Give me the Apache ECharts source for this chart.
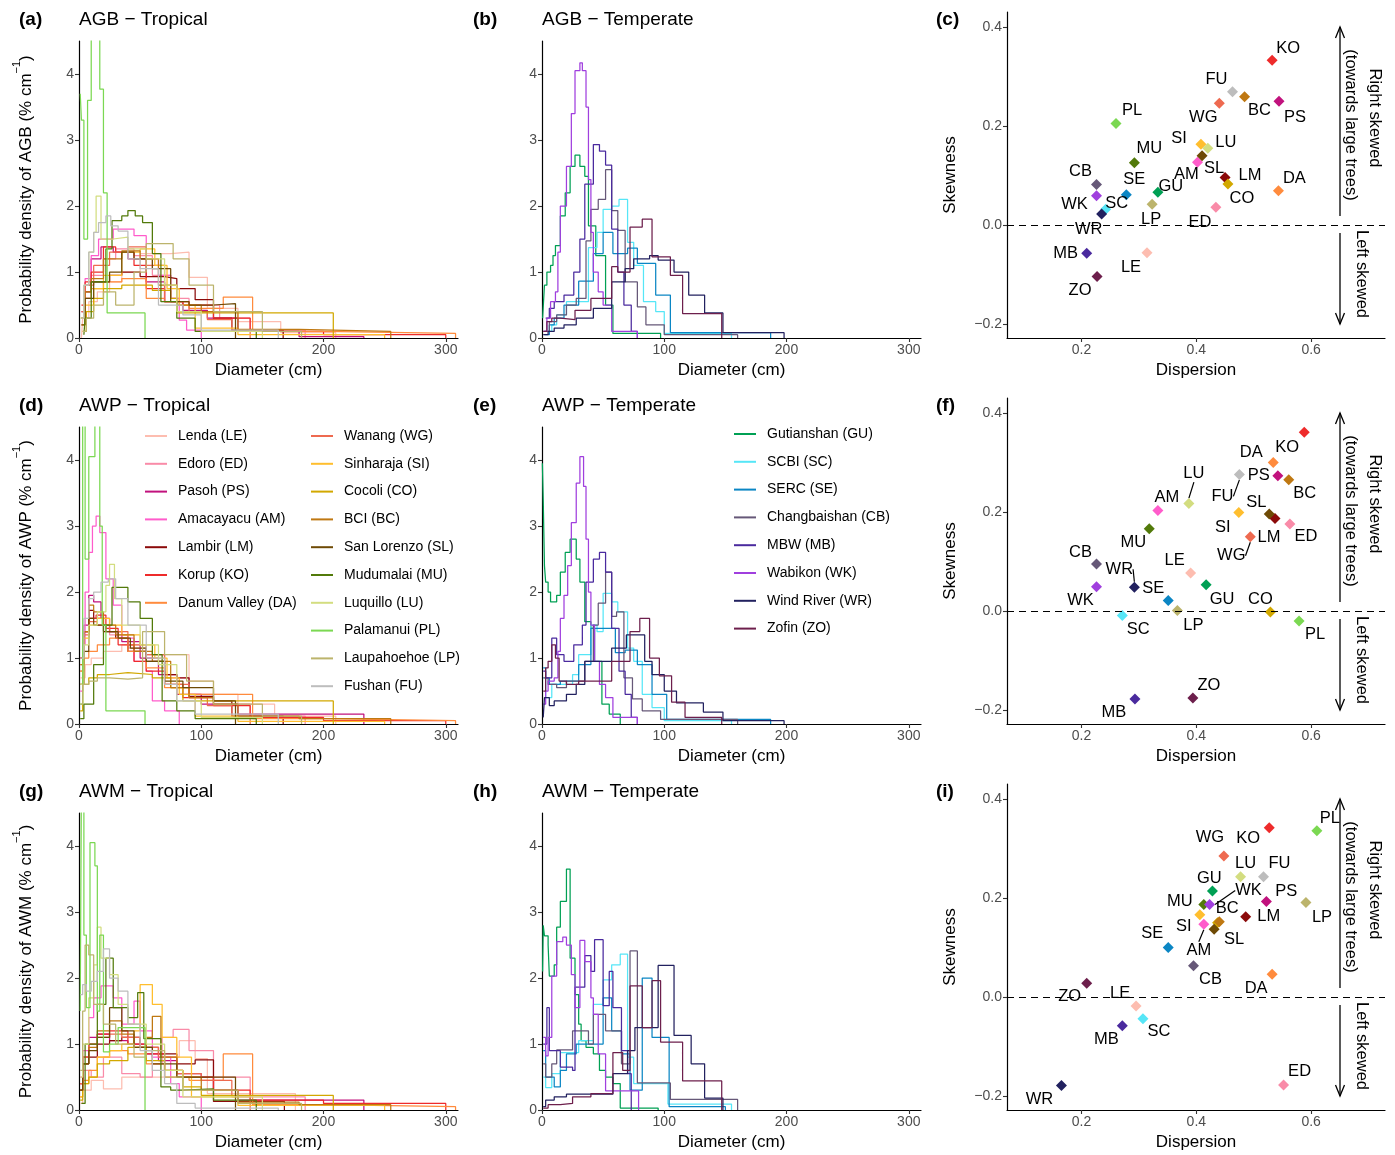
<!DOCTYPE html>
<html>
<head>
<meta charset="utf-8">
<script src="https://cdn.jsdelivr.net/npm/echarts@6/dist/echarts.min.js"></script>
<style>
  html, body { margin: 0; padding: 0; background: #fff; }
  #chart { width: 1395px; height: 1155px; }
</style>
</head>
<body>
<div id="chart"></div>
<script>
// ---- sites ----
const tropicalSites = ['LE','ED','PS','AM','LM','KO','DA','WG','SI','CO','BC','SL','MU','LU','PL','LP','FU'];
const tropicalNames = ['Lenda (LE)','Edoro (ED)','Pasoh (PS)','Amacayacu (AM)','Lambir (LM)','Korup (KO)','Danum Valley (DA)',
  'Wanang (WG)','Sinharaja (SI)','Cocoli (CO)','BCI (BC)','San Lorenzo (SL)','Mudumalai (MU)','Luquillo (LU)','Palamanui (PL)','Laupahoehoe (LP)','Fushan (FU)'];
const tropicalColors = ['#FDBDB0','#F98BA8','#C1127D','#FF5CCB','#8B0A0A','#EE2B2B','#FF8B3D',
  '#EE6A50','#FFBE2E','#D2A800','#BF7812','#6E4A05','#527A0A','#D3DD80','#7BD852','#BCB46C','#BDBDBD'];
const temperateSites = ['GU','SC','SE','CB','MB','WK','WR','ZO'];
const temperateNames = ['Gutianshan (GU)','SCBI (SC)','SERC (SE)','Changbaishan (CB)','MBW (MB)','Wabikon (WK)','Wind River (WR)','Zofin (ZO)'];
const temperateColors = ['#00A054','#56E6F7','#0B86C4','#665878','#4A2A9E','#A03FDE','#22215F','#6D1F4C'];

// ---- step histograms: [left edge (cm), density (% per cm)], last point closes at 0 ----
const agbTropical = [
  [[2,0],[3,0.3],[8,0.55],[15,0.7],[25,0.85],[35,1.0],[50,1.28],[75,1.3],[90,0.92],[105,0.45],[130,0.25],[165,0.08],[210,0]],
  [[2,0.2],[5,0.6],[10,0.95],[20,1.2],[30,1.35],[45,1.25],[60,0.95],[75,0.6],[90,0.5],[115,0.3],[140,0.12],[185,0]],
  [[2,0.4],[5,0.8],[10,1.2],[18,1.38],[28,1.3],[40,1.2],[55,0.85],[70,0.55],[85,0.42],[105,0.3],[130,0.1],[180,0.02],[233,0]],
  [[2,0.3],[5,0.9],[10,1.25],[16,1.5],[28,1.65],[45,1.55],[55,1.2],[65,0.95],[75,0.6],[82,0.27],[88,0.12],[100,0]],
  [[2,0.3],[5,0.7],[10,0.85],[25,0.95],[35,1.0],[50,0.93],[70,0.9],[80,0.75],[95,0.58],[110,0.3],[125,0.12],[167,0]],
  [[2,0.5],[5,0.85],[10,1.0],[20,1.38],[30,1.3],[45,1.1],[55,0.75],[70,0.55],[85,0.5],[110,0.3],[140,0.1],[200,0.05],[300,0]],
  [[2,0.3],[5,0.6],[10,0.75],[20,0.85],[35,0.9],[55,0.6],[70,0.55],[90,0.45],[118,0.62],[142,0.1],[200,0.07],[308,0]],
  [[2,0.4],[5,0.8],[12,1.1],[25,1.3],[40,1.38],[55,1.1],[70,0.55],[90,0.4],[105,0.28],[125,0.1],[140,0]],
  [[2,0.2],[5,0.5],[12,0.75],[20,0.95],[35,1.3],[50,1.35],[62,1.1],[72,0.75],[82,0.5],[95,0.15],[130,0.05],[250,0]],
  [[3,0.1],[6,0.4],[12,0.6],[20,0.75],[35,0.8],[60,0.72],[75,0.6],[80,0.38],[208,0]],
  [[2,0.3],[5,0.7],[10,0.9],[20,1.2],[35,1.32],[50,1.2],[65,0.8],[80,0.5],[100,0.4],[130,0.13],[180,0.1],[255,0]],
  [[2,0.2],[5,0.6],[12,0.85],[25,1.0],[35,1.3],[45,1.2],[60,1.05],[75,0.55],[90,0.5],[110,0.52],[128,0]],
  [[4,0.05],[5,0.3],[10,0.85],[22,1.35],[27,1.78],[35,1.85],[40,1.93],[46,1.85],[52,1.75],[60,1.28],[67,0.55],[80,0.3],[95,0.1],[145,0]],
  [[1,0.3],[4,0.8],[8,1.3],[12,1.6],[14,2.15],[18,1.5],[28,1.53],[40,1.35],[55,1.2],[70,0.8],[80,0.4],[100,0.1],[150,0]],
  [[1,3.7],[2,3.3],[4,1.5],[7,3.6],[10,4.8],[17,3.77],[20,2.2],[23,0.38],[54,0]],
  [[3,0.1],[6,0.3],[12,0.5],[20,0.7],[30,0.5],[45,1.0],[55,1.43],[77,1.2],[90,0.8],[110,0.4],[150,0.1],[182,0]],
  [[2,0.3],[4,0.8],[8,1.3],[12,1.6],[16,1.75],[22,1.85],[26,1.7],[32,1.62],[40,1.2],[50,1.05],[65,0.5],[85,0.35],[100,0.12],[163,0]]
];
const awpTropical = [
  [[1,0.7],[5,0.9],[10,1.0],[20,1.1],[35,1.2],[55,1.05],[75,1.05],[90,0.65],[110,0.45],[130,0.3],[160,0.12],[210,0]],
  [[1,0.9],[4,1.4],[8,1.6],[15,1.5],[25,1.35],[40,1.15],[55,1.05],[70,0.7],[90,0.45],[110,0.3],[140,0.12],[185,0]],
  [[1,0.8],[4,1.5],[8,1.95],[12,1.85],[18,1.6],[25,1.4],[35,1.25],[50,1.0],[65,0.75],[80,0.45],[100,0.3],[130,0.15],[233,0]],
  [[1,0.5],[3,1.2],[5,2.0],[8,2.6],[11,3.0],[14,3.15],[17,2.9],[22,2.2],[28,1.8],[35,1.3],[45,0.95],[55,0.8],[60,0.35],[70,0.2],[82,0]],
  [[1,1.0],[4,1.4],[8,1.72],[12,1.6],[20,1.4],[30,1.3],[40,1.1],[55,0.95],[70,0.75],[80,0.7],[90,0.42],[110,0.35],[125,0.12],[167,0]],
  [[1,1.0],[4,1.4],[8,1.6],[14,1.65],[22,1.45],[32,1.2],[45,0.95],[55,0.8],[70,0.6],[85,0.4],[110,0.28],[140,0.1],[200,0.05],[300,0]],
  [[1,0.6],[4,1.0],[8,1.1],[15,1.2],[25,1.3],[40,1.1],[55,0.85],[70,0.55],[90,0.45],[118,0.45],[142,0.08],[200,0.05],[308,0]],
  [[1,1.0],[4,1.35],[8,1.55],[15,1.5],[25,1.4],[40,1.2],[55,1.05],[70,0.6],[90,0.4],[105,0.28],[125,0.1],[140,0]],
  [[1,0.8],[4,1.3],[8,1.5],[15,1.6],[25,1.5],[35,1.35],[50,1.2],[62,1.0],[72,0.7],[82,0.45],[95,0.12],[130,0.04],[250,0]],
  [[1,0.2],[3,0.6],[8,0.7],[15,0.75],[25,0.78],[40,0.75],[60,0.7],[75,0.55],[85,0.35],[208,0]],
  [[1,0.9],[4,1.4],[8,1.8],[12,1.7],[20,1.5],[30,1.35],[45,1.1],[60,0.95],[75,0.55],[90,0.4],[110,0.3],[130,0.12],[180,0.08],[255,0]],
  [[1,0.6],[4,1.1],[8,1.6],[12,1.5],[22,1.4],[32,1.3],[42,1.15],[55,0.95],[70,0.65],[85,0.55],[110,0.35],[128,0]],
  [[1,0.08],[4,0.3],[12,0.9],[20,1.5],[27,2.07],[40,1.85],[50,1.6],[60,1.05],[68,0.35],[80,0.2],[95,0.08],[145,0]],
  [[1,0.6],[4,1.2],[8,1.5],[15,1.7],[22,2.1],[25,2.42],[29,1.9],[35,1.5],[50,1.2],[65,0.9],[80,0.35],[100,0.1],[150,0]],
  [[1,0.3],[3,5],[5,2.5],[8,4.05],[13,5],[17,3.0],[19,1.5],[22,0.2],[54,0]],
  [[1,0.3],[3,0.6],[8,0.65],[15,0.7],[25,0.68],[40,0.7],[52,1.4],[70,1.05],[88,0.65],[110,0.3],[150,0.12],[182,0]],
  [[1,1.0],[4,1.6],[8,1.9],[12,2.0],[18,2.15],[24,2.2],[30,1.9],[40,1.5],[55,1.0],[70,0.6],[80,0.35],[95,0.15],[163,0]]
];
const awmTropical = [
  [[1,0.1],[3,0.3],[10,0.45],[20,0.32],[35,0.5],[55,0.5],[70,0.8],[82,1.05],[95,0.78],[105,0.25],[177,0]],
  [[1,0.3],[3,0.6],[10,0.5],[20,0.8],[35,0.55],[50,0.5],[60,0.7],[68,1.1],[77,1.22],[90,0.9],[110,0.5],[140,0.2],[185,0]],
  [[1,0.4],[3,0.8],[8,1.1],[15,1.15],[25,1.05],[40,1.0],[55,0.85],[65,0.75],[80,0.55],[100,0.5],[110,0.3],[130,0.15],[233,0]],
  [[1,0.5],[3,0.9],[8,1.4],[12,1.7],[18,1.88],[28,1.7],[35,1.3],[45,1.65],[50,1.2],[60,0.8],[75,0.4],[82,0.2],[100,0]],
  [[1,0.3],[3,0.7],[8,0.8],[15,1.0],[25,1.05],[35,1.1],[50,0.95],[65,0.85],[80,0.7],[95,0.76],[110,0.13],[168,0]],
  [[1,0.4],[3,0.8],[8,1.0],[15,1.15],[25,1.2],[40,1.0],[55,0.85],[70,0.6],[85,0.5],[110,0.3],[140,0.15],[200,0.1],[300,0]],
  [[1,0.2],[3,0.45],[8,0.6],[15,0.8],[25,0.9],[40,0.85],[55,0.7],[70,0.5],[90,0.45],[118,0.85],[142,0.08],[200,0.05],[308,0]],
  [[1,0.4],[3,0.8],[8,1.0],[15,1.1],[25,1.15],[35,1.1],[50,0.95],[65,0.8],[80,0.55],[100,0.45],[125,0.2],[140,0]],
  [[1,0.2],[3,0.4],[8,0.5],[15,0.8],[25,0.9],[35,1.0],[45,1.2],[50,1.9],[60,1.6],[68,1.1],[80,0.8],[92,0.2],[130,0.07],[250,0]],
  [[1,0.15],[3,0.4],[8,0.5],[15,0.7],[25,0.75],[40,0.95],[55,0.75],[70,0.6],[85,0.35],[100,0.22],[208,0]],
  [[1,0.3],[3,0.7],[8,0.95],[15,1.2],[25,1.35],[35,1.15],[45,0.95],[55,1.1],[60,1.42],[67,0.8],[80,0.5],[100,0.3],[130,0.12],[180,0.08],[255,0]],
  [[1,0.3],[3,0.7],[8,0.9],[15,1.1],[25,1.55],[35,1.2],[45,0.95],[60,0.7],[80,0.5],[100,0.5],[128,0]],
  [[2,0.1],[5,1.0],[15,1.6],[22,2.3],[28,1.55],[40,1.4],[48,1.78],[53,1.08],[67,0.35],[75,0.3],[85,0.32],[110,0.15],[145,0]],
  [[1,0.5],[3,1.0],[8,1.7],[12,2.2],[15,2.77],[18,2.3],[25,2.05],[32,1.6],[40,1.3],[55,1.0],[70,0.6],[85,0.2],[150,0]],
  [[1,1.5],[2,5],[4,2.65],[6,1.55],[9,4.05],[13,3.7],[15,1.5],[17,2.65],[20,0.88],[25,1.0],[32,1.25],[54,0]],
  [[1,0.6],[3,1.5],[5,2.5],[8,2.35],[12,1.6],[20,1.3],[30,1.0],[45,0.8],[55,0.9],[70,0.5],[85,0.3],[130,0.1],[182,0]],
  [[1,1.75],[3,1.9],[6,1.8],[10,1.95],[15,2.1],[20,2.44],[25,2.0],[32,1.8],[40,1.3],[50,0.9],[60,0.6],[70,0.4],[80,0.1],[95,0.03],[163,0]]
];
const agbTemperate = [
  [[0.5,0.3],[2,0.8],[4,1.0],[7,1.1],[9,1.25],[11,1.4],[15,1.85],[19,2.2],[23,2.6],[27,2.77],[31,2.6],[35,2.45],[38,1.7],[44,1.25],[52,0.5],[58,0.07],[97,0]],
  [[2,0.1],[8,0.2],[12,0.35],[20,0.55],[38,1.37],[45,1.6],[50,1.95],[57,2.0],[63,2.1],[70,1.45],[75,1.1],[83,0.55],[93,0.4],[100,0.07],[155,0]],
  [[2,0.05],[6,0.2],[10,0.3],[18,0.5],[30,0.86],[42,1.28],[50,1.6],[58,1.28],[70,1.36],[78,1.13],[93,0.65],[105,0.08],[187,0]],
  [[2,0.1],[6,0.25],[12,0.35],[20,0.5],[28,0.6],[36,1.47],[40,1.95],[46,2.1],[52,2.55],[57,1.93],[62,1.63],[68,0.85],[78,0.47],[85,0.2],[100,0.05],[160,0]],
  [[3,0.3],[6,0.45],[10,0.55],[18,0.65],[26,1.0],[31,1.5],[35,2.33],[42,2.93],[47,2.83],[52,2.62],[57,1.65],[62,1.0],[67,0.5],[73,0.1],[78,0]],
  [[1,0.1],[4,0.3],[7,0.55],[11,0.7],[13,1.3],[15,2.0],[20,2.6],[24,3.4],[27,4.05],[31,4.17],[33,4.05],[36,3.5],[38,2.4],[40,1.6],[42,1.0],[46,0.7],[50,0.5],[57,0.1],[78,0]],
  [[1,0.05],[5,0.1],[10,0.15],[18,0.2],[28,0.3],[42,0.45],[57,0.85],[68,1.05],[75,1.2],[88,1.25],[95,1.18],[108,1.0],[120,0.65],[133,0.38],[148,0.08],[198,0]],
  [[1,0.1],[4,0.25],[8,0.3],[15,0.28],[27,0.42],[40,0.6],[57,1.08],[62,1.0],[72,1.68],[82,1.8],[90,1.23],[105,0.95],[115,0.37],[147,0]]
];
const awpTemperate = [
  [[0.3,3.95],[1,3.4],[1.5,2.9],[2,2.4],[3,2.15],[5,2.0],[7,1.85],[12,1.95],[15,2.3],[19,2.6],[23,2.8],[28,2.5],[31,2.15],[35,1.55],[40,1.45],[43,0.95],[49,0.3],[55,0.15],[64,0]],
  [[1,0.7],[3,0.4],[8,0.6],[25,0.75],[30,1.05],[40,1.5],[45,1.4],[50,1.98],[57,1.85],[62,1.7],[70,1.15],[75,0.95],[82,0.45],[90,0.25],[100,0.05],[155,0]],
  [[1,0.85],[3,0.7],[6,0.6],[15,0.65],[30,0.9],[40,1.45],[52,1.45],[60,1.08],[68,1.12],[78,0.9],[90,0.45],[102,0.07],[187,0]],
  [[1,0.7],[5,0.6],[12,0.55],[20,0.65],[35,0.95],[42,1.5],[46,1.83],[52,2.3],[57,1.63],[61,1.7],[67,0.7],[74,0.38],[82,0.2],[97,0.07],[160,0]],
  [[1,0.8],[3,0.7],[8,1.3],[12,1.05],[18,0.95],[26,1.2],[33,1.5],[36,2.15],[42,2.5],[47,2.6],[52,2.3],[57,1.45],[63,0.8],[68,0.45],[73,0.1],[78,0]],
  [[1,0.3],[3,0.5],[5,0.65],[10,0.7],[13,1.1],[15,1.6],[18,1.95],[21,2.4],[24,3.05],[28,3.65],[31,4.05],[34,3.6],[36,2.8],[38,2.0],[40,1.5],[43,0.95],[47,0.6],[52,0.4],[58,0.1],[78,0]],
  [[1,0.1],[2,0.4],[6,0.28],[10,0.35],[20,0.45],[28,0.6],[35,0.95],[57,1.15],[69,1.35],[84,0.95],[90,0.75],[100,0.5],[110,0.32],[132,0.18],[148,0.05],[198,0]],
  [[1,0.5],[3,0.85],[5,0.95],[8,1.2],[11,1.0],[14,0.65],[20,0.6],[30,0.65],[57,0.95],[72,1.4],[80,1.6],[88,1.0],[96,0.73],[106,0.33],[117,0.1],[147,0]]
];
const awmTemperate = [
  [[0.5,2.1],[1,2.8],[2,2.64],[5,2.5],[6,2.03],[10,2.2],[12,2.77],[15,3.16],[20,3.65],[23,2.3],[27,1.75],[30,1.3],[32,1.05],[36,0.95],[42,0.85],[47,0.6],[52,0.5],[58,0.4],[64,0.03],[95,0]],
  [[1,0.5],[3,0.34],[8,0.55],[15,0.87],[30,1.05],[42,1.6],[50,1.97],[57,2.2],[64,2.36],[70,0.8],[75,0.4],[103,0.09],[155,0]],
  [[1,0.9],[3,0.5],[10,0.35],[15,0.6],[20,0.85],[28,1.0],[50,1.7],[57,1.2],[65,0.85],[72,0.3],[82,2.0],[90,1.1],[104,0.05],[150,0]],
  [[1,0.7],[3,0.5],[8,0.7],[12,0.91],[25,1.2],[38,1.0],[42,1.45],[52,1.2],[65,0.7],[72,2.41],[78,0.41],[105,0.16],[160,0]],
  [[1,1.0],[4,1.55],[6,0.9],[15,0.65],[25,0.6],[27,1.86],[35,2.34],[40,2.1],[43,2.58],[50,1.58],[55,2.1],[58,1.55],[65,0.9],[70,0.55],[73,0]],
  [[1,1.1],[3,0.82],[5,1.1],[8,2.03],[12,2.55],[17,2.62],[20,2.5],[24,2.05],[27,1.55],[31,2.57],[35,2.25],[40,1.7],[42,1.45],[46,0.85],[52,0.29],[79,0]],
  [[1,0.05],[3,0.15],[10,0.2],[20,0.24],[58,0.55],[70,0.9],[76,1.25],[95,2.19],[108,1.13],[122,0.7],[133,0.18],[148,0]],
  [[1,0.03],[5,0.08],[15,0.1],[25,0.2],[40,0.25],[58,0.87],[66,0.6],[72,1.88],[82,1.25],[90,1.96],[97,1.03],[115,0.44],[147,0]]
];

// ---- dispersion / skewness, order: tropicalSites then temperateSites ----
const agbDispersion = [0.314,0.434,0.544,0.402,0.450,0.532,0.543,0.440,0.408,0.455,0.484,0.410,0.292,0.420,0.260,0.323,0.463, 0.333,0.242,0.278,0.226,0.209,0.226,0.235,0.227];
const agbSkewness   = [-0.056,0.036,0.250,0.127,0.096,0.333,0.069,0.246,0.163,0.083,0.259,0.140,0.126,0.155,0.205,0.042,0.269, 0.066,0.032,0.061,0.082,-0.057,0.059,0.022,-0.104];
const awpDispersion = [0.390,0.563,0.542,0.333,0.537,0.588,0.534,0.494,0.474,0.529,0.561,0.527,0.318,0.387,0.579,0.367,0.475, 0.417,0.271,0.351,0.226,0.293,0.226,0.292,0.394];
const awpSkewness   = [0.077,0.176,0.273,0.203,0.187,0.361,0.300,0.150,0.199,-0.002,0.265,0.196,0.166,0.217,-0.020,0.001,0.276, 0.053,-0.009,0.021,0.095,-0.178,0.049,0.048,-0.176];
const awmDispersion = [0.295,0.552,0.522,0.413,0.486,0.527,0.532,0.448,0.406,0.437,0.440,0.431,0.413,0.477,0.610,0.591,0.517, 0.428,0.307,0.351,0.395,0.271,0.423,0.165,0.209];
const awmSkewness   = [-0.018,-0.178,0.193,0.147,0.162,0.342,0.046,0.285,0.166,0.150,0.152,0.137,0.187,0.243,0.336,0.191,0.243, 0.214,-0.044,0.100,0.063,-0.058,0.187,-0.179,0.028];

// ---- tick labels ----
const diameterTicks = [0, 100, 200, 300];
const densityTicks = [0, 1, 2, 3, 4];
const dispersionTicks = [0.2, 0.4, 0.6];
const skewnessTicks = [-0.2, 0, 0.2, 0.4];

// ---- label placement for the scatter panels (px offsets from point) ----
const agbLabelShift = [[-16,15],[-16,15],[16,16],[-11,12],[25,-2],[16,-12],[16,-12],[-16,14],[-22,-6],[14,15],[15,14],[12,13],[15,-14],[18,-6],[16,-13],[-1,15],[-16,-12],
  [13,-6],[11,-6],[8,-15],[-16,-13],[-21,0],[-22,9],[-13,15],[-17,14]];
const awpLabelShift = [[-16,-12],[16,13],[-19,0],[9,-13],[-6,19],[-17,15],[-22,-10],[-19,19],[-16,15],[-10,-13],[16,14],[-13,-12],[-16,14],[5,-30],[16,14],[16,15],[-17,22],
  [16,15],[16,14],[-15,-12],[-16,-12],[-21,13],[-16,14],[-15,-18],[16,-13]];
const awmLabelShift = [[-16,-12],[16,-14],[20,-10],[-5,26],[23,0],[-21,11],[-16,14],[-14,-18],[-16,12],null,[8,-13],[20,10],[-24,-3],[5,-13],[13,-12],[16,15],[16,-13],
  [-3,-13],[16,13],[-16,-14],[17,14],[-16,14],[39,-14],[-22,14],[-17,13]];
const awpLeaders = ['WG','LU','FU','WR'];
const awmLeaders = ['AM','WK'];

const FONT = '"Liberation Sans", Arial, Helvetica, sans-serif';
const allSites = tropicalSites.concat(temperateSites);
const allColors = tropicalColors.concat(temperateColors);
const rowOffset = [0, 386, 772];

const chart = echarts.init(document.getElementById('chart'));

const grids = [], xAxes = [], yAxes = [], series = [];

function axisBase() {
  return {
    axisLine: { show: true, onZero: false, lineStyle: { color: '#000', width: 1.2 } },
    axisTick: { show: true, length: 4, lineStyle: { color: '#333', width: 1.1 } },
    axisLabel: { color: '#4d4d4d', fontSize: 14, fontFamily: FONT, margin: 5 },
    splitLine: { show: false },
    nameTextStyle: { color: '#000', fontSize: 17, fontFamily: FONT }
  };
}

function histPanel(col, row, metric) {
  const gi = grids.length;
  const off = rowOffset[row];
  grids.push({ left: col === 0 ? 79 : 542, top: 41 + off, width: 379, height: 297 });
  const xa = axisBase();
  Object.assign(xa, { type: 'value', gridIndex: gi, min: 0, max: 310,
    name: 'Diameter (cm)', nameLocation: 'middle', nameGap: 24 });
  xa.axisTick.customValues = diameterTicks;
  xa.axisLabel.customValues = diameterTicks;
  xAxes.push(xa);
  const ya = axisBase();
  Object.assign(ya, { type: 'value', gridIndex: gi, min: 0, max: 4.5 });
  ya.axisTick.customValues = densityTicks;
  ya.axisLabel.customValues = densityTicks;
  if (col === 0) {
    ya.name = '{t|Probability density of ' + metric + ' (% cm}{s|−1}{t|)}';
    ya.nameLocation = 'middle';
    ya.nameGap = 44;
    ya.nameRotate = 90;
    ya.nameTextStyle = { rich: {
      t: { fontSize: 17, color: '#000', fontFamily: FONT, lineHeight: 24, verticalAlign: 'bottom' },
      s: { fontSize: 11, color: '#000', fontFamily: FONT, lineHeight: 24, verticalAlign: 'top' }
    } };
  }
  yAxes.push(ya);
  return gi;
}

function addSteps(gi, names, colors, steps) {
  steps.forEach((d, i) => {
    series.push({
      type: 'line', name: names[i], xAxisIndex: gi, yAxisIndex: gi,
      data: d, step: 'end', symbol: 'none', showSymbol: false,
      lineStyle: { color: colors[i], width: 1.25 }, itemStyle: { color: colors[i] },
      emphasis: { disabled: true }, silent: true, animation: false, clip: true
    });
  });
}

function scatterPanel(row, disp, skew, shifts, leaders) {
  const gi = grids.length;
  const off = rowOffset[row];
  grids.push({ left: 1007, top: 12 + off, width: 378, height: 326 });
  const xa = axisBase();
  Object.assign(xa, { type: 'value', gridIndex: gi, min: 0.0701, max: 0.7287,
    name: 'Dispersion', nameLocation: 'middle', nameGap: 24 });
  xa.axisTick.customValues = dispersionTicks;
  xa.axisLabel.customValues = dispersionTicks;
  xa.axisLabel.formatter = v => v.toFixed(1);
  xAxes.push(xa);
  const ya = axisBase();
  Object.assign(ya, { type: 'value', gridIndex: gi, min: -0.2283, max: 0.4303,
    name: 'Skewness', nameLocation: 'middle', nameGap: 48, nameRotate: 90 });
  ya.axisTick.customValues = skewnessTicks;
  ya.axisLabel.customValues = skewnessTicks;
  ya.axisLabel.formatter = v => (v < -1e-9 ? '−' : '') + Math.abs(v).toFixed(1);
  yAxes.push(ya);

  const data = allSites.map((s, i) => {
    const item = { name: s, value: [disp[i], skew[i]], itemStyle: { color: allColors[i], opacity: 1 } };
    if (!shifts[i]) item.label = { show: false };
    if (leaders.indexOf(s) >= 0) item.labelLine = { show: true, lineStyle: { color: '#000', width: 1.2 } };
    return item;
  });
  series.push({
    type: 'scatter', xAxisIndex: gi, yAxisIndex: gi, symbol: 'diamond', symbolSize: 11,
    data: data, silent: true, animation: false,
    itemStyle: { opacity: 1 },
    label: { show: true, position: 'inside', formatter: '{b}', color: '#000', fontSize: 16.5, fontFamily: FONT },
    labelLine: { show: false, length2: 0 },
    labelLayout: p => {
      const sh = shifts[p.dataIndex] || [0, 0];
      return { dx: sh[0], dy: sh[1] };
    },
    markLine: {
      silent: true, symbol: 'none', animation: false, label: { show: false },
      lineStyle: { type: [7, 5], color: '#000', width: 1.2 },
      data: [{ yAxis: 0 }]
    }
  });
}

// row 1: AGB
let g = histPanel(0, 0, 'AGB'); addSteps(g, tropicalNames, tropicalColors, agbTropical);
g = histPanel(1, 0, 'AGB'); addSteps(g, temperateNames, temperateColors, agbTemperate);
scatterPanel(0, agbDispersion, agbSkewness, agbLabelShift, []);
// row 2: AWP
g = histPanel(0, 1, 'AWP'); addSteps(g, tropicalNames, tropicalColors, awpTropical);
g = histPanel(1, 1, 'AWP'); addSteps(g, temperateNames, temperateColors, awpTemperate);
scatterPanel(1, awpDispersion, awpSkewness, awpLabelShift, awpLeaders);
// row 3: AWM
g = histPanel(0, 2, 'AWM'); addSteps(g, tropicalNames, tropicalColors, awmTropical);
g = histPanel(1, 2, 'AWM'); addSteps(g, temperateNames, temperateColors, awmTemperate);
scatterPanel(2, awmDispersion, awmSkewness, awmLabelShift, awmLeaders);

// panel titles and skew arrows
const graphic = [];
const tags = [['(a)', 'AGB − Tropical', '(b)', 'AGB − Temperate', '(c)'],
              ['(d)', 'AWP − Tropical', '(e)', 'AWP − Temperate', '(f)'],
              ['(g)', 'AWM − Tropical', '(h)', 'AWM − Temperate', '(i)']];
function txt(x, y, text, opts) {
  return Object.assign({ type: 'text', x: x, y: y, silent: true,
    style: Object.assign({ text: text, fill: '#000', fontFamily: FONT, fontSize: 19,
      textAlign: 'left', textVerticalAlign: 'middle', align: 'left', verticalAlign: 'middle' }, opts || {}) });
}
tags.forEach((t, r) => {
  const y = 20 + rowOffset[r];
  graphic.push(txt(19, y, t[0], { fontWeight: 'bold' }));
  graphic.push(txt(79, y, t[1]));
  graphic.push(txt(473, y, t[2], { fontWeight: 'bold' }));
  graphic.push(txt(542, y, t[3]));
  graphic.push(txt(936, y, t[4], { fontWeight: 'bold' }));

  const off = rowOffset[r];
  const ax = 1340, zeroY = 225 + off, topY = 27 + off, botY = 324 + off;
  const ls = { stroke: '#000', lineWidth: 1.3, fill: null };
  graphic.push({ type: 'line', silent: true, shape: { x1: ax, y1: zeroY - 9, x2: ax, y2: topY }, style: ls });
  graphic.push({ type: 'polyline', silent: true, shape: { points: [[ax - 4.5, topY + 11], [ax, topY], [ax + 4.5, topY + 11]] }, style: ls });
  graphic.push({ type: 'line', silent: true, shape: { x1: ax, y1: zeroY + 8, x2: ax, y2: botY }, style: ls });
  graphic.push({ type: 'polyline', silent: true, shape: { points: [[ax - 4.5, botY - 11], [ax, botY], [ax + 4.5, botY - 11]] }, style: ls });
  const rot = { rotation: -Math.PI / 2 };
  const ctr = { fontSize: 16.5, textAlign: 'center', align: 'center' };
  graphic.push(Object.assign(txt(1351, 125 + off, '(towards large trees)', ctr), rot));
  graphic.push(Object.assign(txt(1375, 118 + off, 'Right skewed', ctr), rot));
  graphic.push(Object.assign(txt(1362, 274 + off, 'Left skewed', ctr), rot));
});

const legendText = { fontSize: 14, color: '#000', fontFamily: FONT, lineHeight: 14, padding: [0, 0, 0, 6] };
const legendBase = { orient: 'vertical', icon: 'rect', itemWidth: 22, itemHeight: 2, itemGap: 13.8, selectedMode: false,
  textStyle: legendText, inactiveColor: '#ccc' };

chart.setOption({
  animation: false,
  backgroundColor: '#fff',
  textStyle: { fontFamily: FONT },
  grid: grids,
  xAxis: xAxes,
  yAxis: yAxes,
  series: series,
  graphic: graphic,
  legend: [
    Object.assign({ left: 140, top: 424, data: tropicalNames.slice(0, 7) }, legendBase),
    Object.assign({ left: 306, top: 424, data: tropicalNames.slice(7) }, legendBase),
    Object.assign({ left: 729, top: 422, data: temperateNames }, legendBase)
  ]
});
</script>
</body>
</html>
